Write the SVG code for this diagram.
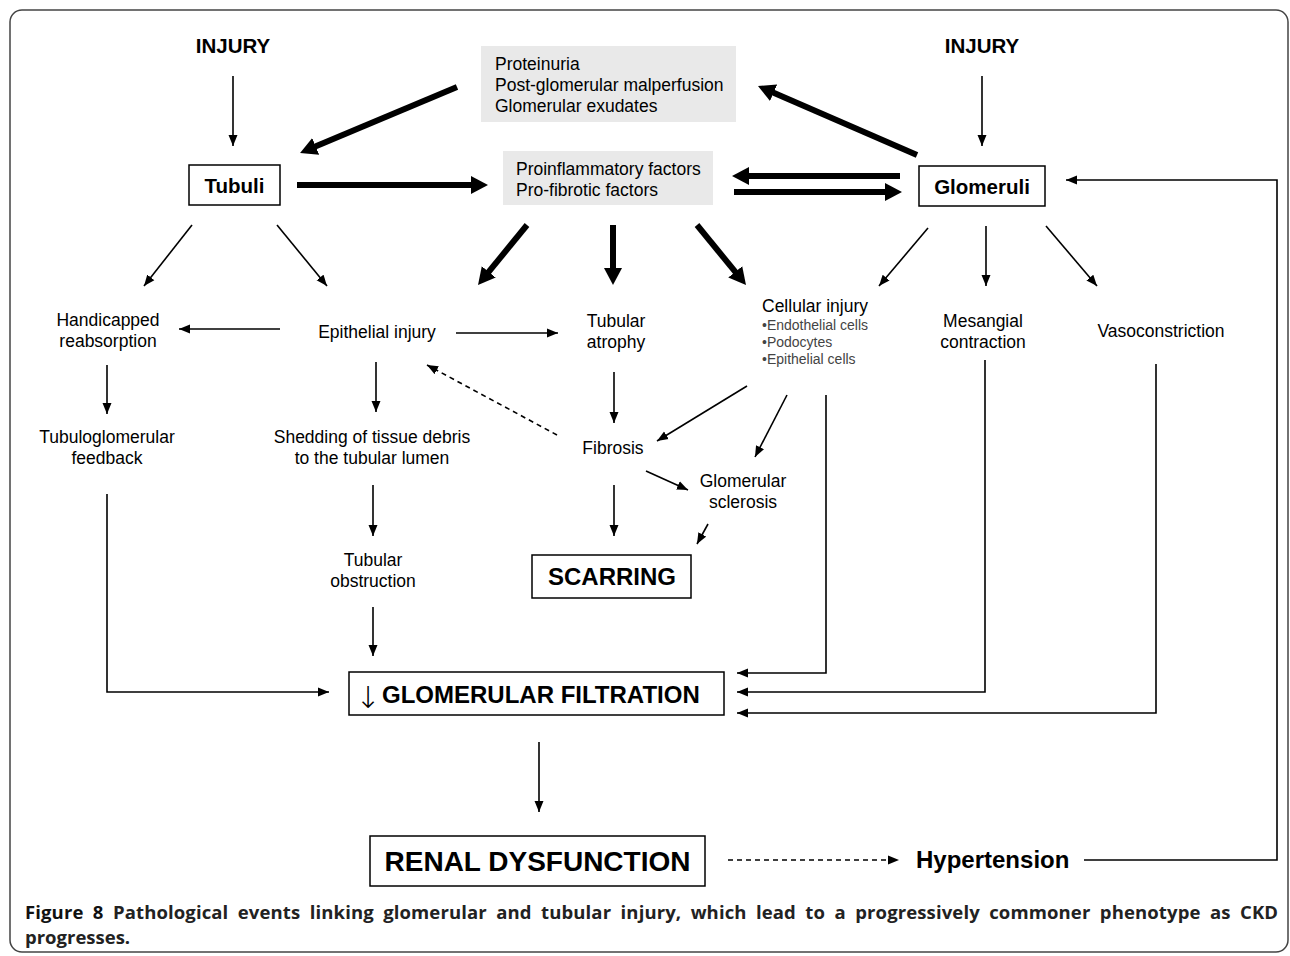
<svg xmlns="http://www.w3.org/2000/svg" width="1290" height="956" viewBox="0 0 1290 956">
<defs>
<style>
text{font-family:"Liberation Sans",Arial,sans-serif;fill:#000}
.lb{font-size:17.5px}
.hd{font-size:20.5px;font-weight:bold}
.bg{font-weight:bold}
.sm{font-size:14px;fill:#444}
.box{fill:#fff;stroke:#000;stroke-width:1.5}
.gray{fill:#e9e9e9;stroke:none}
.th{stroke:#000;stroke-width:1.6;fill:none;marker-end:url(#ah)}
.tk{stroke:#000;stroke-width:6;fill:none;marker-end:url(#ahT)}
.ln{stroke:#000;stroke-width:1.6;fill:none}
.ds{stroke-dasharray:5,4}
.cap{font-family:"Open Sans","Liberation Sans",sans-serif;font-size:18.5px;font-weight:bold;fill:#222}
.arr{font-family:"DejaVu Sans","Liberation Sans",sans-serif;font-size:30px;font-weight:200;fill:#000}
</style>
<marker id="ah" markerUnits="userSpaceOnUse" viewBox="0 0 12 10" markerWidth="12" markerHeight="10" refX="11" refY="5" orient="auto"><path d="M0,0.5 L11,5 L0,9.5 z" fill="#000"/></marker>
<marker id="ahT" markerUnits="userSpaceOnUse" viewBox="0 0 18 20" markerWidth="18" markerHeight="20" refX="5" refY="10" orient="auto"><path d="M0,1 L17,10 L0,19 z" fill="#000"/></marker>
</defs>
<rect width="1290" height="956" fill="#fff"/>
<rect x="10" y="10" width="1278" height="942" rx="12" fill="none" stroke="#444" stroke-width="1.5"/>

<g id="connectors">
<line class="th" x1="233" y1="76" x2="233" y2="146"/>
<line class="th" x1="982" y1="76" x2="982" y2="146"/>
<line class="tk" x1="457" y1="87" x2="311.1" y2="148.3"/>
<line class="tk" x1="917" y1="155" x2="769" y2="90.8"/>
<line class="tk" x1="297" y1="185" x2="476" y2="185"/>
<line class="tk" x1="900" y1="176" x2="744" y2="176"/>
<line class="tk" x1="734" y1="192" x2="890" y2="192"/>
<line class="tk" x1="527" y1="225" x2="485.6" y2="275.7"/>
<line class="tk" x1="613" y1="225" x2="613" y2="273"/>
<line class="tk" x1="697" y1="225" x2="738.4" y2="275.7"/>
<line class="th" x1="192" y1="225" x2="144" y2="286"/>
<line class="th" x1="277" y1="225" x2="327" y2="286"/>
<line class="th" x1="928" y1="228" x2="879" y2="286"/>
<line class="th" x1="986" y1="226" x2="986" y2="286"/>
<line class="th" x1="1046" y1="226" x2="1097" y2="286"/>
<line class="th" x1="280" y1="329" x2="179" y2="329"/>
<line class="th" x1="456" y1="333" x2="558" y2="333"/>
<line class="th" x1="107" y1="365" x2="107" y2="414"/>
<line class="th" x1="376" y1="362" x2="376" y2="412"/>
<line class="th" x1="614" y1="372" x2="614" y2="423"/>
<line class="th ds" x1="557" y1="435" x2="427" y2="365"/>
<line class="th" x1="747" y1="386" x2="657" y2="441"/>
<line class="th" x1="787" y1="395" x2="755" y2="457"/>
<line class="th" x1="646" y1="471" x2="688" y2="490"/>
<line class="th" x1="614" y1="485" x2="614" y2="536"/>
<line class="th" x1="708" y1="524" x2="697" y2="544"/>
<line class="th" x1="373" y1="485" x2="373" y2="536"/>
<line class="th" x1="373" y1="607" x2="373" y2="656"/>
<path class="th" d="M107,494 V692 H329"/>
<path class="th" d="M826,395 V673 H737"/>
<path class="th" d="M985,360 V692 H737"/>
<path class="th" d="M1156,364 V713 H737"/>
<line class="th" x1="539" y1="742" x2="539" y2="812"/>
<line class="th ds" x1="728" y1="860" x2="899" y2="860"/>
<path class="th" d="M1084,860 H1277 V180 H1066"/>
</g>

<g id="injury-left"><text class="hd" x="233" y="53" text-anchor="middle">INJURY</text></g>
<g id="injury-right"><text class="hd" x="982" y="53" text-anchor="middle">INJURY</text></g>

<g id="proteinuria">
<rect class="gray" x="481" y="46" width="255" height="76"/>
<text class="lb" x="495" y="70">Proteinuria</text>
<text class="lb" x="495" y="91">Post-glomerular malperfusion</text>
<text class="lb" x="495" y="112">Glomerular exudates</text>
</g>

<g id="factors">
<rect class="gray" x="503" y="151" width="210" height="54"/>
<text class="lb" x="516" y="175">Proinflammatory factors</text>
<text class="lb" x="516" y="196">Pro-fibrotic factors</text>
</g>

<g id="tubuli">
<rect class="box" x="189" y="165" width="91" height="40"/>
<text class="hd" x="234.5" y="193" text-anchor="middle">Tubuli</text>
</g>

<g id="glomeruli">
<rect class="box" x="919" y="166" width="126" height="40"/>
<text class="hd" x="982" y="194" text-anchor="middle">Glomeruli</text>
</g>

<g id="handicapped">
<text class="lb" x="108" y="326" text-anchor="middle">Handicapped</text>
<text class="lb" x="108" y="347" text-anchor="middle">reabsorption</text>
</g>
<g id="epithelial"><text class="lb" x="377" y="338" text-anchor="middle">Epithelial injury</text></g>
<g id="tubular-atrophy">
<text class="lb" x="616" y="327" text-anchor="middle">Tubular</text>
<text class="lb" x="616" y="348" text-anchor="middle">atrophy</text>
</g>
<g id="cellular">
<text class="lb" x="762" y="312">Cellular injury</text>
<text class="sm" x="762" y="330">•Endothelial cells</text>
<text class="sm" x="762" y="347">•Podocytes</text>
<text class="sm" x="762" y="364">•Epithelial cells</text>
</g>
<g id="mesangial">
<text class="lb" x="983" y="327" text-anchor="middle">Mesangial</text>
<text class="lb" x="983" y="348" text-anchor="middle">contraction</text>
</g>
<g id="vasoconstriction"><text class="lb" x="1161" y="337" text-anchor="middle">Vasoconstriction</text></g>

<g id="tubuloglomerular">
<text class="lb" x="107" y="443" text-anchor="middle">Tubuloglomerular</text>
<text class="lb" x="107" y="464" text-anchor="middle">feedback</text>
</g>
<g id="shedding">
<text class="lb" x="372" y="443" text-anchor="middle">Shedding of tissue debris</text>
<text class="lb" x="372" y="464" text-anchor="middle">to the tubular lumen</text>
</g>
<g id="fibrosis"><text class="lb" x="613" y="454" text-anchor="middle">Fibrosis</text></g>
<g id="sclerosis">
<text class="lb" x="743" y="487" text-anchor="middle">Glomerular</text>
<text class="lb" x="743" y="508" text-anchor="middle">sclerosis</text>
</g>
<g id="obstruction">
<text class="lb" x="373" y="566" text-anchor="middle">Tubular</text>
<text class="lb" x="373" y="587" text-anchor="middle">obstruction</text>
</g>

<g id="scarring">
<rect class="box" x="532" y="555" width="159" height="43"/>
<text class="bg" x="612" y="585" text-anchor="middle" font-size="24">SCARRING</text>
</g>

<g id="gfr">
<rect class="box" x="349" y="672" width="375" height="43"/>
<text class="arr" x="368" y="708" text-anchor="middle">↓</text>
<text class="bg" x="382" y="703" font-size="24">GLOMERULAR FILTRATION</text>
</g>

<g id="renal">
<rect class="box" x="370" y="836" width="335" height="50"/>
<text class="bg" x="537.5" y="871" text-anchor="middle" font-size="28">RENAL DYSFUNCTION</text>
</g>

<g id="hypertension"><text class="bg" x="916" y="868" font-size="24">Hypertension</text></g>

<g id="caption">
<text class="cap" x="25" y="919" word-spacing="4.5" textLength="1253" lengthAdjust="spacing"><tspan fill="#111">Figure 8</tspan> Pathological events linking glomerular and tubular injury, which lead to a progressively commoner phenotype as CKD</text>
<text class="cap" x="25" y="944">progresses.</text>
</g>
</svg>
